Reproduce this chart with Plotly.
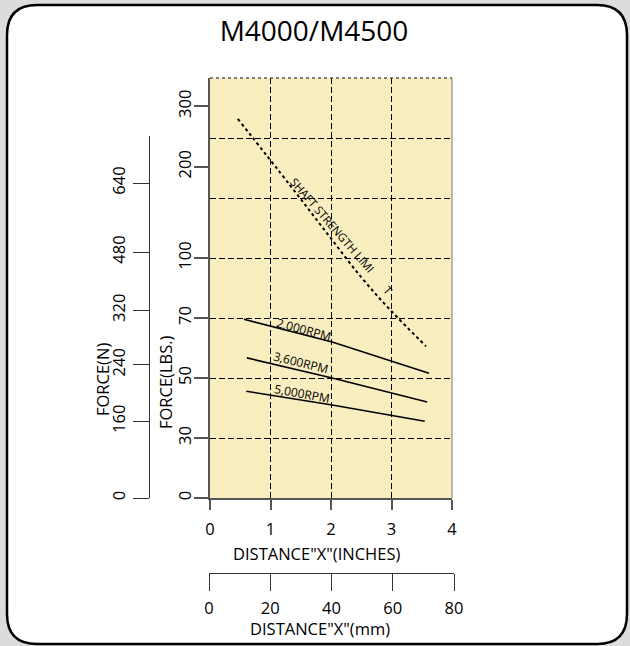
import numpy as np
import plotly.graph_objects as go

# ---------------- data ----------------
TITLE = "M4000/M4500"

# Force (LBS.) axis: labelled values and their place on the chart's piecewise grid
LBS_TICKS = [0, 30, 50, 70, 100, 200, 300]
LBS_POS = [0, 1, 2, 3, 4, 5.52, 6.53]

# Force (N) axis labels and their places on the same grid
N_TICKS = [0, 160, 240, 320, 480, 640]
N_POS = [0, 1.28, 2.22, 3.13, 4.10, 5.25]

INCH_TICKS = [0, 1, 2, 3, 4]
MM_TICKS = [0, 20, 40, 60, 80]

# curves: distance (inches) vs force (lbs)
SHAFT_X = [0.46, 1.32, 1.97, 2.51, 2.98, 3.57]
SHAFT_Y = [279, 180, 124, 90, 74, 60.6]

RPM2000_X = [0.56, 2.02, 3.62]
RPM2000_Y = [69.6, 62.0, 51.6]

RPM3600_X = [0.61, 2.02, 3.59]
RPM3600_Y = [56.7, 50.0, 42.0]

RPM5000_X = [0.60, 2.02, 3.55]
RPM5000_Y = [45.6, 41.0, 35.6]

W, H = 630, 646


def lbs(v):
    """piecewise force scale used by the chart"""
    return np.interp(v, LBS_TICKS, LBS_POS)


def px(x):
    return x / W


def py(y):
    return 1 - y / H


FONT = "Open Sans"
AXC = "#555555"
BG = "#f8eebf"

fig = go.Figure()

line_style = dict(color="black", width=1.6)
for xs, ys in [(RPM2000_X, RPM2000_Y), (RPM3600_X, RPM3600_Y), (RPM5000_X, RPM5000_Y)]:
    fig.add_trace(go.Scatter(x=xs, y=lbs(ys), mode="lines", line=line_style,
                             showlegend=False, hoverinfo="skip"))
fig.add_trace(go.Scatter(x=SHAFT_X, y=lbs(SHAFT_Y), mode="lines",
                         line=dict(color="black", width=2, dash="dot"),
                         line_shape="spline", showlegend=False, hoverinfo="skip"))
# anchors for the secondary axes
fig.add_trace(go.Scatter(x=[None], y=[None], xaxis="x2", yaxis="y2", showlegend=False, hoverinfo="skip"))
fig.add_trace(go.Scatter(x=[None], y=[None], xaxis="x", yaxis="y3", showlegend=False, hoverinfo="skip"))

grid = dict(showgrid=True, gridcolor="black", gridwidth=1, griddash="6px,3px")
tickfont = dict(family=FONT, size=16.5, color="black")

fig.update_layout(
    width=W, height=H, autosize=False, showlegend=False,
    margin=dict(l=0, r=0, t=0, b=0, pad=0, autoexpand=False),
    paper_bgcolor="#dcdcdc",
    plot_bgcolor="rgba(0,0,0,0)",
    font=dict(family=FONT, color="black"),
    title=dict(text=TITLE, x=314 / W, y=py(31), xanchor="center", yanchor="middle",
               font=dict(family=FONT, size=28, color="black")),
    xaxis=dict(domain=[px(210), px(452)], range=[0, 4], tickmode="array", tickvals=INCH_TICKS,
               ticks="outside", ticklen=10, tickcolor=AXC, tickwidth=1.5,
               showline=True, linecolor=AXC, linewidth=2, zeroline=False, automargin=False,
               tickfont=tickfont, ticklabelstandoff=5, anchor="y", **grid),
    yaxis=dict(domain=[py(498), py(78)], range=[0, 7], tickmode="array", tickvals=[1, 2, 3, 4, 5, 6],
               showticklabels=False, ticks="", showline=True, linecolor=AXC, linewidth=2,
               zeroline=False, anchor="x", automargin=False, **grid),
    yaxis3=dict(overlaying="y", anchor="x", side="left", range=[0, 7], tickmode="array",
                tickvals=LBS_POS, ticktext=[str(v) for v in LBS_TICKS],
                ticks="outside", ticklen=15, tickcolor=AXC, tickwidth=1.5, tickangle=-90,
                tickfont=tickfont, showgrid=False, showline=False, zeroline=False,
                automargin=False, ticklabelstandoff=-4),
    yaxis2=dict(anchor="free", position=px(149), side="left", domain=[py(498), py(136)],
                range=[0, (498 - 136) / 60], tickmode="array", tickvals=N_POS,
                ticktext=[str(v) for v in N_TICKS], ticks="outside", ticklen=16,
                tickcolor="#333", tickwidth=1.2, tickangle=-90, tickfont=tickfont,
                showline=True, linecolor="#333", linewidth=1.2, showgrid=False, zeroline=False,
                automargin=False, ticklabelstandoff=1),
    xaxis2=dict(anchor="free", position=py(573), side="bottom", domain=[px(209), px(454)],
                range=[0, 80], tickmode="array", tickvals=MM_TICKS, ticks="outside", ticklen=17,
                tickcolor="#333", tickwidth=1.2, showline=True, linecolor="#333", linewidth=1.2,
                showgrid=False, zeroline=False, automargin=False, tickfont=tickfont,
                ticklabelstandoff=3),
)

# rounded white frame
x0, y0, x1, y1, r = 7, 5, 627, 644, 30
path = (f"M {px(x0 + r)},{py(y0)} L {px(x1 - r)},{py(y0)} Q {px(x1)},{py(y0)} {px(x1)},{py(y0 + r)} "
        f"L {px(x1)},{py(y1 - r)} Q {px(x1)},{py(y1)} {px(x1 - r)},{py(y1)} "
        f"L {px(x0 + r)},{py(y1)} Q {px(x0)},{py(y1)} {px(x0)},{py(y1 - r)} "
        f"L {px(x0)},{py(y0 + r)} Q {px(x0)},{py(y0)} {px(x0 + r)},{py(y0)} Z")
fig.add_shape(type="path", path=path, xref="paper", yref="paper", layer="below",
              fillcolor="white", line=dict(color="black", width=2.5))
# plot background
fig.add_shape(type="rect", xref="x domain", yref="y domain", x0=0, x1=1, y0=0, y1=1,
              fillcolor=BG, line=dict(width=0), layer="below")
# top dotted border and right border
fig.add_shape(type="line", xref="x domain", yref="y domain", x0=0, x1=1, y0=1, y1=1,
              line=dict(color=AXC, width=1.5, dash="dot"), layer="above")
fig.add_shape(type="line", xref="x domain", yref="y domain", x0=1, x1=1, y0=0, y1=1,
              line=dict(color="#8a8a8a", width=1.2), layer="above")

C = dict(xanchor="center", yanchor="middle", showarrow=False)
ann = []
# curve labels
for text, x, y, ang in [("2,000RPM", 1.55, 66.3, 15), ("3,600RPM", 1.50, 55.3, 14),
                        ("5,000RPM", 1.52, 44.7, 10)]:
    ann.append(dict(text=text, x=x, y=float(lbs(y)), xref="x", yref="y",
                    textangle=ang, font=dict(family=FONT, size=12, color="black"), **C))
ann.append(dict(text="SHAFT STRENGTH LIMI", x=2.03, y=float(lbs(136)), xref="x", yref="y",
                textangle=49, font=dict(family=FONT, size=11.5, color="black"), **C))
ann.append(dict(text="T", x=2.95, y=float(lbs(84)), xref="x", yref="y",
                textangle=49, font=dict(family=FONT, size=11.5, color="black"), **C))
# axis titles
ann.append(dict(text="FORCE(LBS.)", x=px(165), y=py(382), xref="paper", yref="paper",
                textangle=-90, font=dict(family=FONT, size=16.5), **C))
ann.append(dict(text="FORCE(N)", x=px(102), y=py(380), xref="paper", yref="paper",
                textangle=-90, font=dict(family=FONT, size=16.5), **C))
ann.append(dict(text='DISTANCE"X"(INCHES)', x=px(316), y=py(553), xref="paper", yref="paper",
                font=dict(family=FONT, size=16.5), **C))
ann.append(dict(text='DISTANCE"X"(mm)', x=px(320), y=py(628), xref="paper", yref="paper",
                font=dict(family=FONT, size=16.5), **C))
fig.update_layout(annotations=ann)

fig.write_html(
    "out.html",
    config={"displayModeBar": False, "responsive": False},
    post_script="document.body.style.margin='0';document.body.style.overflow='hidden';"
                "document.documentElement.style.overflow='hidden';",
)
